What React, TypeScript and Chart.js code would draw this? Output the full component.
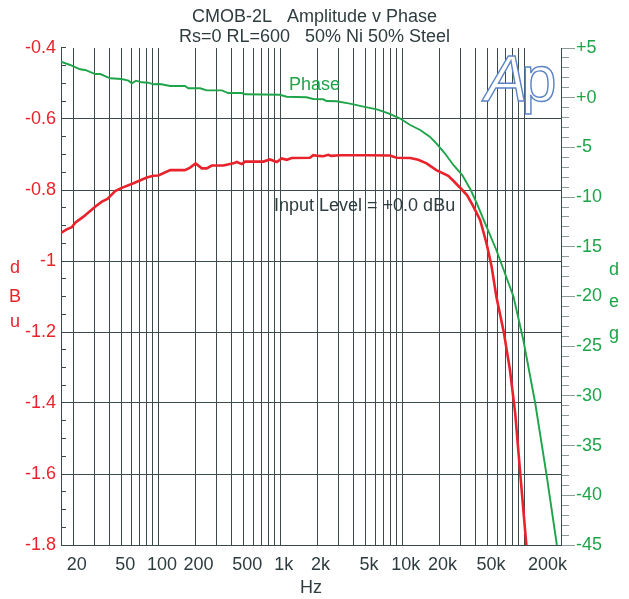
import React, { useEffect, useRef } from "react";
import { Chart, registerables } from "chart.js";

Chart.register(...registerables);

// ---------- data ----------
const ampFreq = [
  15.9, 17.7, 19.5, 20.8, 24.3, 30.3, 34.4, 38.2, 44.2, 50.1, 62.4, 80.3, 91, 100,
  125, 165, 182, 202, 227, 249, 274, 341, 412, 439, 483, 513, 726, 822, 935, 1026,
  1128, 1240, 1750, 1860, 2050, 2250, 2470, 2600, 3070, 3720, 5000, 7930, 8970,
  11600, 13500, 15800, 19000, 23800, 26200, 31000, 34000, 38300, 43500, 49000,
  54000, 59000, 67800, 76300, 84300, 92700, 104000,
];
const ampDbu = [
  -0.921, -0.911, -0.905, -0.892, -0.875, -0.847, -0.833, -0.825, -0.803, -0.794,
  -0.781, -0.765, -0.76, -0.759, -0.744, -0.744, -0.737, -0.725, -0.739, -0.739,
  -0.731, -0.731, -0.725, -0.721, -0.727, -0.72, -0.72, -0.714, -0.721, -0.711,
  -0.715, -0.71, -0.709, -0.702, -0.704, -0.705, -0.701, -0.704, -0.702, -0.702,
  -0.702, -0.703, -0.709, -0.71, -0.715, -0.725, -0.744, -0.76, -0.774, -0.8,
  -0.815, -0.847, -0.885, -0.95, -1.016, -1.1, -1.199, -1.307, -1.43, -1.6, -1.8,
];

const phaseFreq = [
  15.9, 18.9, 22.8, 25.1, 30.3, 33.4, 40.2, 50, 56.8, 60.5, 65.6, 73, 82.8, 91, 103,
  125, 165, 176, 220, 249, 331, 374, 483, 513, 990, 1125, 1640, 1860, 2250, 2390,
  2890, 3720, 4800, 6180, 7700, 9520, 11600, 14000, 16800, 19000, 22300, 26200,
  31000, 36400, 40800, 49000, 59000, 67800, 81600, 98200, 123000, 153000, 185000,
];
const phaseDeg = [
  3.62, 3.29, 2.86, 2.79, 2.38, 2.38, 1.95, 1.88, 1.71, 1.45, 1.71, 1.55, 1.51, 1.35,
  1.38, 1.18, 1.18, 0.95, 0.95, 0.74, 0.74, 0.47, 0.47, 0.34, 0.3, 0.1, 0.04, -0.13,
  -0.16, -0.33, -0.36, -0.6, -0.9, -1.17, -1.57, -2.07, -2.75, -3.25, -3.92, -4.59,
  -5.59, -6.77, -7.78, -9.29, -10.62, -12.97, -15.32, -17.33, -20.02, -24.38,
  -30.74, -38.13, -45,
];

const xGridFreqs = [
  20, 30, 40, 50, 60, 70, 80, 90,
  100, 200, 300, 400, 500, 600, 700, 800, 900,
  1000, 2000, 3000, 4000, 5000, 6000, 7000, 8000, 9000,
  10000, 20000, 30000, 40000, 50000, 60000, 70000, 80000, 90000,
  100000, 200000,
];
const xTickValues = [20, 50, 100, 200, 500, 1000, 2000, 5000, 10000, 20000, 50000, 200000];
const xTickLabels = ["20", "50", "100", "200", "500", "1k", "2k", "5k", "10k", "20k", "50k", "200k"];

const leftTickValues = [-1.8, -1.6, -1.4, -1.2, -1, -0.8, -0.6, -0.4];
const leftTickLabels = ["-1.8", "-1.6", "-1.4", "-1.2", "-1", "-0.8", "-0.6", "-0.4"];

const rightTickValues = [-45, -40, -35, -30, -25, -20, -15, -10, -5, 0, 5];
const rightTickLabels = ["-45", "-40", "-35", "-30", "-25", "-20", "-15", "-10", "-5", "+0", "+5"];

const titleLines = ["CMOB-2L   Amplitude v Phase", "Rs=0 RL=600   50% Ni 50% Steel"];
const leftTitleLetters = ["d", "B", "u"];
const rightTitleLetters = ["d", "e", "g"];

// ---------- style ----------
const FONT = '"Liberation Sans", Arial, Helvetica, sans-serif';
const RED = "#e8232b";
const GREEN = "#1ea449";
const TEXT = "#2e3c3f";
const GRID = "#3a4a4d";
const TICK_GRAY = "#8e9b9d";
const LOGO = "#5a84c4";

const decorPlugin = {
  id: "decor",
  beforeDraw(chart: any) {
    const { ctx, width, height } = chart;
    ctx.save();
    ctx.fillStyle = "#ffffff";
    ctx.fillRect(0, 0, width, height);
    ctx.restore();
  },
  afterDraw(chart: any) {
    const { ctx, chartArea: a, scales } = chart;
    const xs = scales.x;
    const ys = scales.y;
    const ys1 = scales.y1;
    ctx.save();

    // left minor ticks (inward)
    ctx.strokeStyle = GRID;
    ctx.lineWidth = 1;
    ctx.beginPath();
    for (let i = 0; i <= 28; i++) {
      const v = -1.8 + i * 0.05;
      const py = Math.round(ys.getPixelForValue(v) - 0.5) + 0.5;
      ctx.moveTo(a.left, py);
      ctx.lineTo(a.left + 5, py);
    }
    ctx.stroke();

    // right ticks (outward)
    ctx.strokeStyle = TICK_GRAY;
    ctx.beginPath();
    for (let d = -45; d <= 5; d++) {
      const py = Math.round(ys1.getPixelForValue(d) - 0.5) + 0.5;
      const len = d % 5 === 0 ? 14 : 8;
      ctx.moveTo(a.right + 1, py);
      ctx.lineTo(a.right + len, py);
    }
    ctx.stroke();

    // x tick labels
    ctx.fillStyle = TEXT;
    ctx.font = `18px ${FONT}`;
    ctx.textBaseline = "middle";
    xTickValues.forEach((v, i) => {
      const px = xs.getPixelForValue(v);
      if (i === xTickValues.length - 1) {
        ctx.textAlign = "right";
        ctx.fillText(xTickLabels[i], a.right + 6, a.bottom + 20);
      } else {
        ctx.textAlign = "center";
        ctx.fillText(xTickLabels[i], px + 3.5, a.bottom + 20);
      }
    });

    // axis letter titles
    ctx.textAlign = "center";
    ctx.textBaseline = "alphabetic";
    ctx.fillStyle = RED;
    const leftBase = [273, 302, 327];
    leftTitleLetters.forEach((t, i) => ctx.fillText(t, 15, leftBase[i]));
    ctx.fillStyle = GREEN;
    const rightBase = [275, 307, 339];
    rightTitleLetters.forEach((t, i) => ctx.fillText(t, 614, rightBase[i]));

    // annotations
    ctx.textAlign = "left";
    ctx.fillStyle = GREEN;
    ctx.fillText("Phase", 289, 90);
    ctx.fillStyle = TEXT;
    ctx.fillText("Input Level = +0.0 dBu", 274, 211);

    // Ap logo (outlined)
    ctx.lineWidth = 1.4;
    ctx.strokeStyle = LOGO;
    ctx.fillStyle = "#ffffff";
    ctx.font = `italic 64px ${FONT}`;
    ctx.fillText("A", 485, 101);
    ctx.strokeText("A", 485, 101);
    ctx.font = `64px ${FONT}`;
    ctx.fillText("p", 521, 101);
    ctx.strokeText("p", 521, 101);

    ctx.restore();
  },
};

export default function App() {
  const ref = useRef<HTMLCanvasElement | null>(null);

  useEffect(() => {
    if (!ref.current) return;
    const chart = new Chart(ref.current, {
      type: "line",
      data: {
        datasets: [
          {
            label: "Amplitude",
            data: ampFreq.map((f, i) => ({ x: f, y: ampDbu[i] })),
            borderColor: RED,
            borderWidth: 2.6,
            pointRadius: 0,
            tension: 0,
            yAxisID: "y",
          },
          {
            label: "Phase",
            data: phaseFreq.map((f, i) => ({ x: f, y: phaseDeg[i] })),
            borderColor: GREEN,
            borderWidth: 1.9,
            pointRadius: 0,
            tension: 0,
            yAxisID: "y1",
          },
        ],
      },
      options: {
        responsive: false,
        animation: false,
        events: [],
        layout: { padding: 0 },
        plugins: {
          legend: { display: false },
          tooltip: { enabled: false },
          title: {
            display: true,
            text: titleLines,
            color: TEXT,
            font: { family: FONT, size: 18, weight: "normal", lineHeight: "20px" },
            padding: { top: 7, bottom: 1 },
          },
        },
        scales: {
          x: {
            type: "logarithmic",
            min: 15.9,
            max: 200000,
            afterBuildTicks: (s: any) => {
              s.ticks = xGridFreqs.map((v) => ({ value: v }));
            },
            afterFit: (s: any) => {
              s.height = 54;
            },
            ticks: { display: false },
            grid: { color: GRID, lineWidth: 1, drawTicks: false },
            border: { display: true, color: GRID, width: 1 },
            title: {
              display: true,
              text: "Hz",
              color: TEXT,
              font: { family: FONT, size: 18, lineHeight: "20px" },
              padding: { top: 0, bottom: 1 },
            },
          },
          y: {
            position: "left",
            min: -1.8,
            max: -0.4,
            afterBuildTicks: (s: any) => {
              s.ticks = leftTickValues.map((v) => ({ value: v }));
            },
            afterFit: (s: any) => {
              s.width = 61;
            },
            ticks: {
              autoSkip: false,
              color: RED,
              padding: 5,
              font: { family: FONT, size: 18 },
              callback: (_v: any, i: number) => leftTickLabels[i],
            },
            grid: {
              drawTicks: false,
              lineWidth: 1,
              color: (c: any) =>
                c.tick && Math.abs(c.tick.value + 0.4) < 1e-6 ? "rgba(0,0,0,0)" : GRID,
            },
            border: { display: true, color: GRID, width: 1 },
          },
          y1: {
            position: "right",
            min: -45,
            max: 5,
            afterBuildTicks: (s: any) => {
              s.ticks = rightTickValues.map((v) => ({ value: v }));
            },
            afterFit: (s: any) => {
              s.width = 68;
            },
            ticks: {
              autoSkip: false,
              color: GREEN,
              padding: 7,
              font: { family: FONT, size: 18 },
              callback: (_v: any, i: number) => rightTickLabels[i],
            },
            grid: { display: false, drawOnChartArea: false },
            border: { display: true, color: GRID, width: 1 },
          },
        },
      },
      plugins: [decorPlugin],
    } as any);
    return () => chart.destroy();
  }, []);

  return (
    <div
      style={{
        position: "fixed",
        left: 0,
        top: 0,
        width: 629,
        height: 599,
        background: "#ffffff",
      }}
    >
      <canvas ref={ref} width={629} height={599} style={{ display: "block" }} />
    </div>
  );
}
